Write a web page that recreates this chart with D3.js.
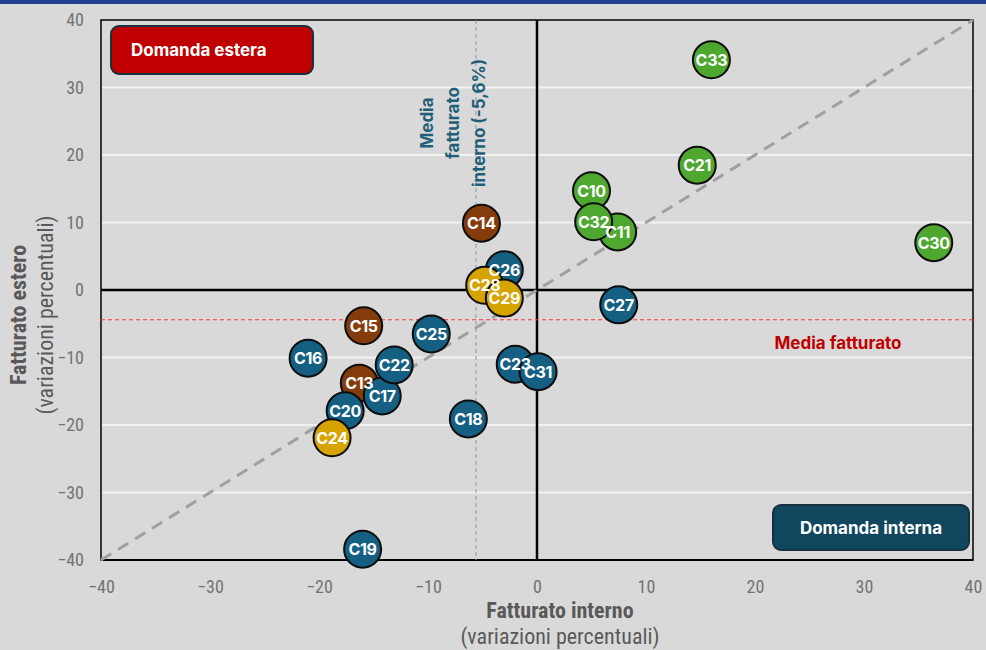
<!DOCTYPE html>
<html>
<head>
<meta charset="utf-8">
<script src="https://cdn.jsdelivr.net/npm/d3@7"></script>
<style>
  html, body { margin: 0; padding: 0; background: #d9d9d9; }
  svg { display: block; }
</style>
</head>
<body>
<svg id="chart" width="986" height="650"></svg>
<script>
// Settori manifatturieri: variazione fatturato interno vs estero
const sectors  = ["C10","C11","C13","C14","C15","C16","C17","C18","C19","C20","C21","C22","C23","C24","C25","C26","C27","C28","C29","C30","C31","C32","C33"];
const domestic = [5.0, 7.4, -16.3, -5.1, -15.9, -21.0, -14.2, -6.3, -16.0, -17.6, 14.7, -13.1, -2.0, -18.8, -9.7, -3.0, 7.5, -4.8, -3.0, 36.4, 0.1, 5.2, 16.0];
const foreign  = [14.7, 8.6, -13.8, 9.9, -5.3, -10.1, -15.7, -19.1, -38.4, -17.9, 18.5, -11.1, -11.0, -21.9, -6.5, 3.0, -2.2, 0.7, -1.2, 7.0, -12.1, 10.1, 34.1];
const groups   = ["verde","verde","marrone","marrone","marrone","blu","blu","blu","blu","blu","verde","blu","blu","giallo","blu","blu","blu","giallo","giallo","verde","blu","verde","verde"];
const xTicks = [-40, -30, -20, -10, 0, 10, 20, 30, 40];
const yTicks = [-40, -30, -20, -10, 0, 10, 20, 30, 40];
const meanDomestic = -5.6;   // media fatturato interno
const meanTurnover = -4.4;   // media fatturato

const groupColor = { verde: "#4ea72e", marrone: "#843c0c", blu: "#156082", giallo: "#d6a300" };

const svg = d3.select("#chart");
const W = 986, H = 650;
const plot = { left: 101, right: 973, top: 20, bottom: 560 };

const x = d3.scaleLinear().domain([-40, 40]).range([plot.left, plot.right]);
const y = d3.scaleLinear().domain([-40, 40]).range([plot.bottom, plot.top]);

svg.append("rect").attr("width", W).attr("height", H).attr("fill", "#d9d9d9");
svg.append("rect").attr("width", W).attr("height", 4).attr("fill", "#213f8e");

const narrow = "'Liberation Sans Narrow', 'Arial Narrow', 'Roboto Condensed', sans-serif";
const bold = "Inter, 'Open Sans', sans-serif";

// griglia orizzontale
svg.append("g").selectAll("line")
  .data(yTicks.filter(d => d !== 0 && Math.abs(d) !== 40))
  .join("line")
  .attr("x1", plot.left).attr("x2", plot.right)
  .attr("y1", d => y(d)).attr("y2", d => y(d))
  .attr("stroke", "#f2f2f2").attr("stroke-width", 2);

// cornice dell'area del grafico
svg.append("rect")
  .attr("x", plot.left).attr("y", plot.top)
  .attr("width", plot.right - plot.left).attr("height", plot.bottom - plot.top)
  .attr("fill", "none").attr("stroke", "#000").attr("stroke-width", 1.5);

// assi dello zero
svg.append("line").attr("x1", plot.left).attr("x2", plot.right)
  .attr("y1", y(0)).attr("y2", y(0)).attr("stroke", "#000").attr("stroke-width", 2.5);
svg.append("line").attr("x1", x(0)).attr("x2", x(0))
  .attr("y1", plot.top).attr("y2", plot.bottom).attr("stroke", "#000").attr("stroke-width", 2.5);
svg.append("line").attr("x1", plot.left).attr("x2", plot.right)
  .attr("y1", plot.bottom).attr("y2", plot.bottom).attr("stroke", "#000").attr("stroke-width", 2);

// bisettrice
svg.append("line")
  .attr("x1", x(-40)).attr("y1", y(-40)).attr("x2", x(40)).attr("y2", y(40))
  .attr("stroke", "#a0a0a0").attr("stroke-width", 3).attr("stroke-dasharray", "12,8");

// media fatturato (orizzontale)
svg.append("line")
  .attr("x1", plot.left).attr("x2", plot.right)
  .attr("y1", y(meanTurnover)).attr("y2", y(meanTurnover))
  .attr("stroke", "#ff3535").attr("stroke-width", 1.1).attr("stroke-dasharray", "4,3");
svg.append("text").attr("x", 838).attr("y", 349)
  .attr("text-anchor", "middle").attr("font-family", bold).attr("font-weight", 700)
  .attr("font-size", 17).attr("fill", "#c00000").text("Media fatturato");

// media fatturato interno (verticale)
svg.append("line")
  .attr("x1", x(meanDomestic)).attr("x2", x(meanDomestic))
  .attr("y1", plot.top).attr("y2", plot.bottom)
  .attr("stroke", "#7d9eb0").attr("stroke-width", 1).attr("stroke-dasharray", "4,3");
const vLabel = svg.append("text")
  .attr("transform", "translate(453,123) rotate(-90)")
  .attr("text-anchor", "middle").attr("font-family", bold).attr("font-weight", 700)
  .attr("font-size", 17).attr("fill", "#1f5f78");
["Media", "fatturato", "interno (-5,6%)"].forEach((t, i) => {
  vLabel.append("tspan").attr("x", 0).attr("dy", i === 0 ? -20 : 26).text(t);
});

// assi
const xAxis = svg.append("g").attr("transform", `translate(0,${plot.bottom})`)
  .call(d3.axisBottom(x).tickValues(xTicks).tickSize(0).tickPadding(20).tickFormat(d3.format("d")));
const yAxis = svg.append("g").attr("transform", `translate(${plot.left},0)`)
  .call(d3.axisLeft(y).tickValues(yTicks).tickSize(0).tickPadding(17).tickFormat(d3.format("d")));
[xAxis, yAxis].forEach(a => {
  a.select(".domain").remove();
  a.selectAll("text").attr("font-family", narrow).attr("font-size", 18).attr("fill", "#737373");
});

// titoli assi
svg.append("text").attr("x", 560).attr("y", 618).attr("text-anchor", "middle")
  .attr("font-family", narrow).attr("font-weight", 700).attr("font-size", 22).attr("fill", "#595959")
  .text("Fatturato interno");
svg.append("text").attr("x", 560).attr("y", 644).attr("text-anchor", "middle")
  .attr("font-family", narrow).attr("font-size", 22).attr("fill", "#595959")
  .text("(variazioni percentuali)");
svg.append("text").attr("transform", "translate(26,315) rotate(-90)").attr("text-anchor", "middle")
  .attr("font-family", narrow).attr("font-weight", 700).attr("font-size", 22).attr("fill", "#595959")
  .text("Fatturato estero");
svg.append("text").attr("transform", "translate(53,315) rotate(-90)").attr("text-anchor", "middle")
  .attr("font-family", narrow).attr("font-size", 22).attr("fill", "#595959")
  .text("(variazioni percentuali)");

// riquadri legenda
function badge(bx, by, bw, bh, fill, label, anchor) {
  svg.append("rect").attr("x", bx).attr("y", by).attr("width", bw).attr("height", bh)
    .attr("rx", 8).attr("fill", fill).attr("stroke", "#17303d").attr("stroke-width", 2);
  svg.append("text")
    .attr("x", anchor === "middle" ? bx + bw / 2 : bx + 20).attr("y", by + bh / 2 + 6)
    .attr("text-anchor", anchor).attr("font-family", bold).attr("font-weight", 700)
    .attr("font-size", 17).attr("fill", "#fff").text(label);
}
badge(111, 26, 202, 48, "#c00000", "Domanda estera", "start");
badge(773, 505, 196, 45, "#11475e", "Domanda interna", "middle");

// bolle settoriali
const data = sectors.map((s, i) => ({ s, dx: domestic[i], fx: foreign[i], g: groups[i] }));
const bubbles = svg.append("g");
bubbles.selectAll("circle").data(data).join("circle")
  .attr("cx", d => x(d.dx)).attr("cy", d => y(d.fx)).attr("r", 18.5)
  .attr("fill", d => groupColor[d.g]).attr("stroke", "#0d0d0d").attr("stroke-width", 2);
bubbles.selectAll("text").data(data).join("text")
  .attr("x", d => x(d.dx)).attr("y", d => y(d.fx) + 6)
  .attr("text-anchor", "middle").attr("font-family", bold).attr("font-weight", 700)
  .attr("font-size", 16).attr("letter-spacing", -0.3).attr("fill", "#fff").text(d => d.s);
</script>
</body>
</html>
